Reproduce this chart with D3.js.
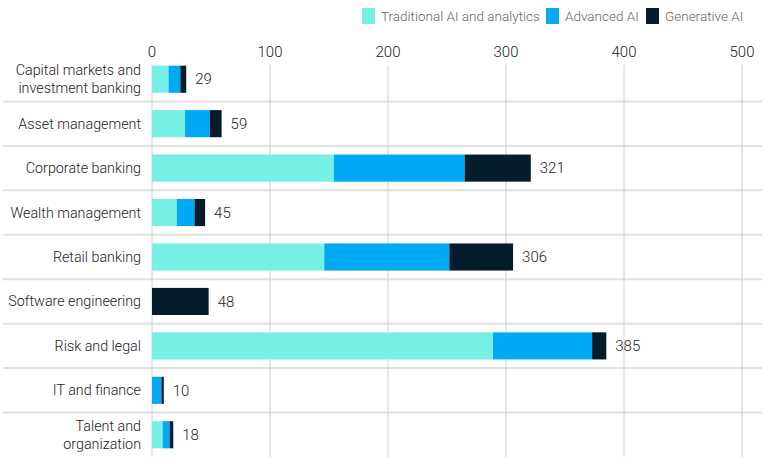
<!DOCTYPE html>
<html>
<head>
<meta charset="utf-8">
<script src="https://cdn.jsdelivr.net/npm/d3@7"></script>
<style>
  body { margin: 0; background: #fff; }
  svg { font-family: Roboto, "Liberation Sans", sans-serif; font-weight: 300; }
</style>
</head>
<body>
<svg id="chart"></svg>
<script>
const categories = [
  "Capital markets and\ninvestment banking",
  "Asset management",
  "Corporate banking",
  "Wealth management",
  "Retail banking",
  "Software engineering",
  "Risk and legal",
  "IT and finance",
  "Talent and\norganization"
];
const seriesNames = ["Traditional AI and analytics", "Advanced AI", "Generative  AI"];
const traditional = [14, 28, 154, 21, 146, 0, 289, 0, 9];
const advanced = [10, 21, 111, 15, 106, 0, 84, 8, 6];
const generative = [5, 10, 56, 9, 54, 48, 12, 2, 3];
const totals = [29, 59, 321, 45, 306, 48, 385, 10, 18];
const xTicks = [0, 100, 200, 300, 400, 500];
const colors = ["#76f0e5", "#00a9f4", "#051c2c"];

const width = 772;
const height = 472;

const svg = d3.select("#chart").attr("width", width).attr("height", height);

const rows = categories.map((c, i) => ({
  category: c,
  trad: traditional[i],
  adv: advanced[i],
  gen: generative[i],
  total: totals[i]
}));

const x = d3.scaleLinear().domain([0, 500]).range([152, 742]);
const y = d3.scaleBand()
  .domain(categories)
  .range([57, 457])
  .paddingInner(0.39)
  .paddingOuter(0.195);

// horizontal row separators
const gap = (y.step() - y.bandwidth()) / 2;
svg.append("g")
  .selectAll("line")
  .data(categories.slice(1))
  .join("line")
  .attr("x1", 3)
  .attr("x2", 762)
  .attr("y1", (d) => y(d) - gap)
  .attr("y2", (d) => y(d) - gap)
  .attr("stroke", "#e0e0e0")
  .attr("stroke-width", 2);

// vertical grid
svg.append("g")
  .selectAll("line")
  .data(xTicks)
  .join("line")
  .attr("x1", (d) => x(d))
  .attr("x2", (d) => x(d))
  .attr("y1", 65)
  .attr("y2", 457)
  .attr("stroke", "#d0d0d0")
  .attr("stroke-width", 1);

// tick labels on top
svg.append("g")
  .selectAll("text")
  .data(xTicks)
  .join("text")
  .attr("x", (d) => x(d))
  .attr("y", 52)
  .attr("dy", "0.35em")
  .attr("text-anchor", "middle")
  .style("font-size", "15px")
  .style("fill", "#222")
  .text((d) => d);

// stacked bars
const stack = d3.stack().keys(["trad", "adv", "gen"]);
const layers = stack(rows);

svg.append("g")
  .selectAll("g")
  .data(layers)
  .join("g")
  .attr("fill", (d, i) => colors[i])
  .selectAll("rect")
  .data((d) => d)
  .join("rect")
  .attr("x", (d) => x(d[0]))
  .attr("y", (d) => y(d.data.category))
  .attr("width", (d) => x(d[1]) - x(d[0]))
  .attr("height", y.bandwidth());

// total labels
svg.append("g")
  .selectAll("text")
  .data(rows)
  .join("text")
  .attr("x", (d) => x(d.total) + 9)
  .attr("y", (d) => y(d.category) + y.bandwidth() / 2)
  .attr("dy", "0.35em")
  .style("font-size", "15px")
  .style("fill", "#222")
  .text((d) => d.total);

// category labels
const catText = svg.append("g")
  .selectAll("text")
  .data(categories)
  .join("text")
  .attr("text-anchor", "end")
  .style("font-size", "14.3px")
  .style("fill", "#222");

catText.each(function (d) {
  const lines = d.split("\n");
  const cy = y(d) + y.bandwidth() / 2;
  const lh = 18;
  d3.select(this)
    .selectAll("tspan")
    .data(lines)
    .join("tspan")
    .attr("x", 141)
    .attr("y", (l, i) => cy + (i - (lines.length - 1) / 2) * lh)
    .attr("dy", "0.35em")
    .text((l) => l);
});

// legend
const legendX = [362, 546, 646];
const legend = svg.append("g")
  .selectAll("g")
  .data(seriesNames)
  .join("g")
  .attr("transform", (d, i) => `translate(${legendX[i]}, 8)`);

legend.append("rect")
  .attr("width", 13)
  .attr("height", 16)
  .attr("fill", (d, i) => colors[i]);

legend.append("text")
  .attr("x", 19)
  .attr("y", 8)
  .attr("dy", "0.35em")
  .style("font-size", "13.5px")
  .style("fill", "#666")
  .text((d) => d);
</script>
</body>
</html>
